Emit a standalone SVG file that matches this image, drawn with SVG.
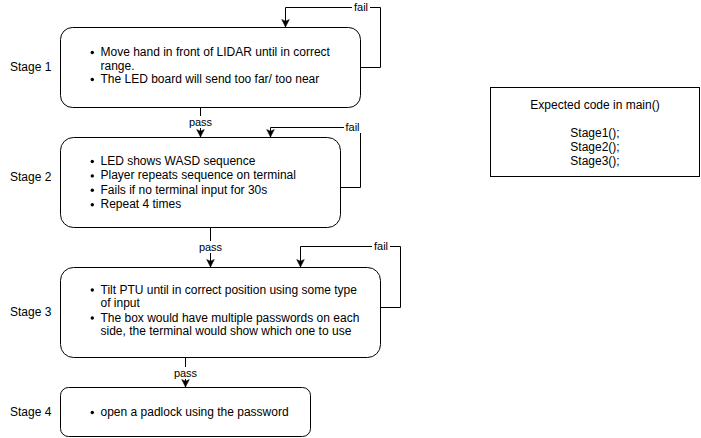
<svg xmlns="http://www.w3.org/2000/svg" width="701" height="438" viewBox="0 0 701 438">
<style>
text{font-family:"Liberation Sans",Arial,sans-serif;fill:#000}
.t{font-size:12px}
.lbl{font-size:11px;text-anchor:middle}
.box{fill:#fff;stroke:#000;stroke-width:1}
.edge{fill:none;stroke:#000;stroke-width:1}
.bg{fill:#fff}
.dot{fill:#000}
.c{text-anchor:middle}
</style>
<defs>
<marker id="arr" markerUnits="userSpaceOnUse" viewBox="-8 -5 9 10" markerWidth="9" markerHeight="10" refX="0" refY="0" orient="auto">
<path d="M0,0 L-7.5,-3.8 L-5.8,0 L-7.5,3.8 Z" fill="#000" stroke="#000" stroke-width="0.5"/>
</marker>
</defs>
<rect width="701" height="438" fill="#fff"/>

<g id="labels">
<text class="t" x="10" y="71">Stage 1</text>
<text class="t" x="10" y="181">Stage 2</text>
<text class="t" x="10" y="316">Stage 3</text>
<text class="t" x="10" y="416">Stage 4</text>
</g>

<g id="connectors">
<path class="edge" d="M360.5,67.5 H380.5 V7.5 H285.5 V27" marker-end="url(#arr)"/>
<path class="edge" d="M200.5,107.5 V137" marker-end="url(#arr)"/>
<path class="edge" d="M340.5,187.5 H360.5 V127.5 H270.5 V137" marker-end="url(#arr)"/>
<path class="edge" d="M210.5,227.5 V267" marker-end="url(#arr)"/>
<path class="edge" d="M380.5,307.5 H400.5 V246.5 H300.5 V267" marker-end="url(#arr)"/>
<path class="edge" d="M185.5,357.5 V387" marker-end="url(#arr)"/>
<rect class="bg" x="352" y="2" width="18" height="11"/>
<text class="lbl" x="361" y="11">fail</text>
<rect class="bg" x="188" y="116" width="25" height="12"/>
<text class="lbl" x="200.5" y="126">pass</text>
<rect class="bg" x="344" y="122" width="17" height="11"/>
<text class="lbl" x="352.5" y="131">fail</text>
<rect class="bg" x="198" y="241" width="25" height="12"/>
<text class="lbl" x="210.5" y="251">pass</text>
<rect class="bg" x="372" y="241" width="18" height="11"/>
<text class="lbl" x="381" y="250">fail</text>
<rect class="bg" x="173" y="367" width="25" height="12"/>
<text class="lbl" x="185.5" y="377">pass</text>
</g>

<g id="stage1">
<rect class="box" x="60.5" y="27.5" width="300" height="80" rx="12" ry="12"/>
<circle class="dot" cx="92.3" cy="52.5" r="1.7"/>
<circle class="dot" cx="92.3" cy="79.5" r="1.7"/>
<text class="t" x="100.5" y="56">Move hand in front of LIDAR until in correct</text>
<text class="t" x="100.5" y="69.5">range.</text>
<text class="t" x="100.5" y="83">The LED board will send too far/ too near</text>
</g>

<g id="stage2">
<rect class="box" x="60.5" y="137.5" width="280" height="90" rx="13" ry="13"/>
<circle class="dot" cx="92.3" cy="161.5" r="1.7"/>
<circle class="dot" cx="92.3" cy="175.9" r="1.7"/>
<circle class="dot" cx="92.3" cy="190.3" r="1.7"/>
<circle class="dot" cx="92.3" cy="204.7" r="1.7"/>
<text class="t" x="100.5" y="165">LED shows WASD sequence</text>
<text class="t" x="100.5" y="179.4">Player repeats sequence on terminal</text>
<text class="t" x="100.5" y="193.8">Fails if no terminal input for 30s</text>
<text class="t" x="100.5" y="208.2">Repeat 4 times</text>
</g>

<g id="stage3">
<rect class="box" x="60.5" y="267.5" width="320" height="90" rx="13" ry="13"/>
<circle class="dot" cx="92.3" cy="290" r="1.7"/>
<circle class="dot" cx="92.3" cy="318" r="1.7"/>
<text class="t" x="100.5" y="293.5">Tilt PTU until in correct position using some type</text>
<text class="t" x="100.5" y="307">of input</text>
<text class="t" x="100.5" y="321.5">The box would have multiple passwords on each</text>
<text class="t" x="100.5" y="335">side, the terminal would show which one to use</text>
</g>

<g id="stage4">
<rect class="box" x="60.5" y="387.5" width="250" height="49" rx="8" ry="8"/>
<circle class="dot" cx="92.3" cy="412.5" r="1.7"/>
<text class="t" x="100.5" y="416">open a padlock using the password</text>
</g>

<g id="main-code">
<rect class="box" x="490.5" y="87.5" width="209" height="89"/>
<text class="t c" x="595" y="109">Expected code in main()</text>
<text class="t c" x="595" y="137">Stage1();</text>
<text class="t c" x="595" y="151">Stage2();</text>
<text class="t c" x="595" y="165">Stage3();</text>
</g>
</svg>
